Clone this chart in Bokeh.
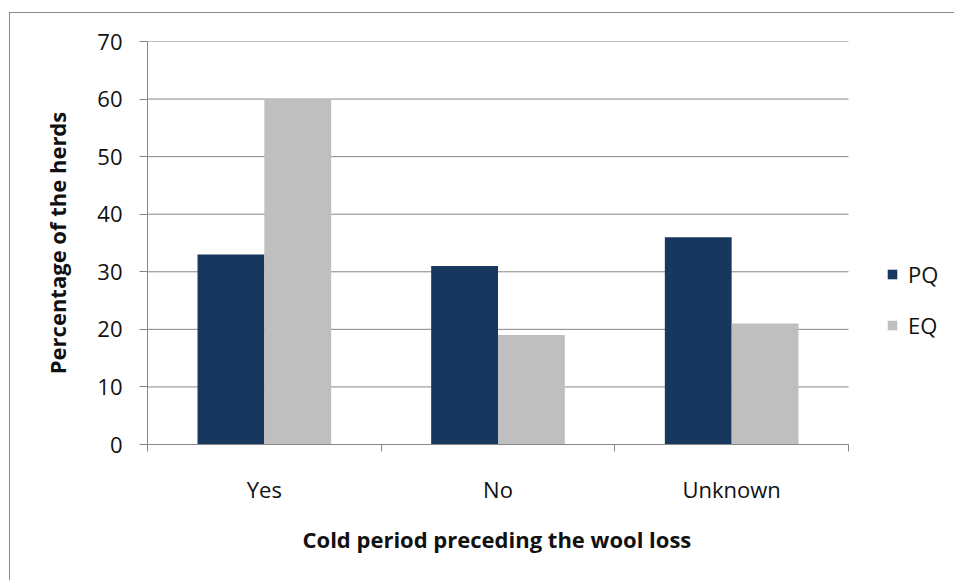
from bokeh.plotting import figure
from bokeh.models import ColumnDataSource, FixedTicker, Legend, LegendItem, Range1d, Title
from bokeh.embed import file_html
from bokeh.resources import INLINE

categories = ["Yes", "No", "Unknown"]
pq_values = [33, 31, 36]
eq_values = [60, 19, 21]
series_names = ["PQ", "EQ"]
y_ticks = [0, 10, 20, 30, 40, 50, 60, 70]
x_title = "Cold period preceding the wool loss"
y_title = "Percentage of the herds"

FONT = "Open Sans"
GRID = "#868686"
NAVY = "#17375E"
GREY = "#BFBFBF"

# layout (pixels)
W, H = 945, 568
LEFT, TOP, BOTTOM = 137, 28, 137
PLOT_W = 701            # width of the category area
FRAME_W = W - LEFT      # frame runs to the right edge, legend lives inside it

n = len(categories)
bar_w = 0.286
centers = [i + 0.5 for i in range(n)]
src_pq = ColumnDataSource(dict(x=[c - bar_w / 2 for c in centers], top=pq_values))
src_eq = ColumnDataSource(dict(x=[c + bar_w / 2 for c in centers], top=eq_values))
src_grid = ColumnDataSource(dict(x0=[0] * len(y_ticks), x1=[n] * len(y_ticks), y=y_ticks))

p = figure(width=W, height=H, output_backend="svg", toolbar_location=None,
           x_range=Range1d(0, n * FRAME_W / PLOT_W), y_range=Range1d(0, 70),
           min_border_left=LEFT, min_border_right=0, min_border_top=TOP, min_border_bottom=BOTTOM)
p.margin = (12, 0, 0, 9)
p.styles = {"border-left": "1px solid #8c8c8c", "border-top": "1px solid #8c8c8c"}
p.outline_line_color = None
p.background_fill_color = "white"
p.border_fill_color = "white"

# horizontal gridlines limited to the category area
p.segment(x0="x0", x1="x1", y0="y", y1="y", source=src_grid, line_color=GRID, line_width=1)

r_pq = p.vbar(x="x", top="top", bottom=0, width=bar_w, source=src_pq, fill_color=NAVY, line_color=None)
r_eq = p.vbar(x="x", top="top", bottom=0, width=bar_w, source=src_eq, fill_color=GREY, line_color=None)

# x axis: labels at category centres, ticks at boundaries
xax = p.xaxis[0]
xax.bounds = (0, n)
xax.ticker = FixedTicker(ticks=centers, minor_ticks=list(range(n + 1)))
xax.major_label_overrides = {c: lab for c, lab in zip(centers, categories)}
xax.major_tick_out = 0
xax.major_tick_in = 0
xax.minor_tick_out = 7
xax.minor_tick_in = 0
xax.minor_tick_line_color = GRID
xax.axis_line_color = GRID
xax.major_label_standoff = 22
xax.major_label_text_font = FONT
xax.major_label_text_font_size = "22px"
xax.major_label_text_color = "#111111"

# x title, centred under the category area
p.add_layout(Title(text=x_title, align="left", offset=150, standoff=21, padding=5,
                   text_font=FONT, text_font_size="22px", text_font_style="bold",
                   text_color="#111111"), "below")

yax = p.yaxis[0]
yax.ticker = FixedTicker(ticks=y_ticks)
yax.major_tick_out = 8
yax.major_tick_in = 0
yax.minor_tick_line_color = None
yax.major_tick_line_color = GRID
yax.axis_line_color = GRID
yax.major_label_standoff = 17
yax.major_label_text_font = FONT
yax.major_label_text_font_size = "22px"
yax.major_label_text_color = "#111111"
yax.axis_label = y_title
yax.axis_label_text_font = FONT
yax.axis_label_text_font_size = "22px"
yax.axis_label_text_font_style = "bold"
yax.axis_label_text_color = "#111111"
yax.axis_label_standoff = 22

p.xgrid.grid_line_color = None
p.ygrid.grid_line_color = None

legend = Legend(items=[LegendItem(label=series_names[0], renderers=[r_pq]),
                       LegendItem(label=series_names[1], renderers=[r_eq])],
                location=(PLOT_W + 38, 104), orientation="vertical",
                glyph_width=12, glyph_height=12, label_height=30, spacing=21,
                label_standoff=10, padding=0, margin=0,
                border_line_color=None, background_fill_alpha=0,
                label_text_font=FONT, label_text_font_size="22px", label_text_color="#111111")
p.add_layout(legend, "center")

open("out.html", "w").write(file_html(p, INLINE))
